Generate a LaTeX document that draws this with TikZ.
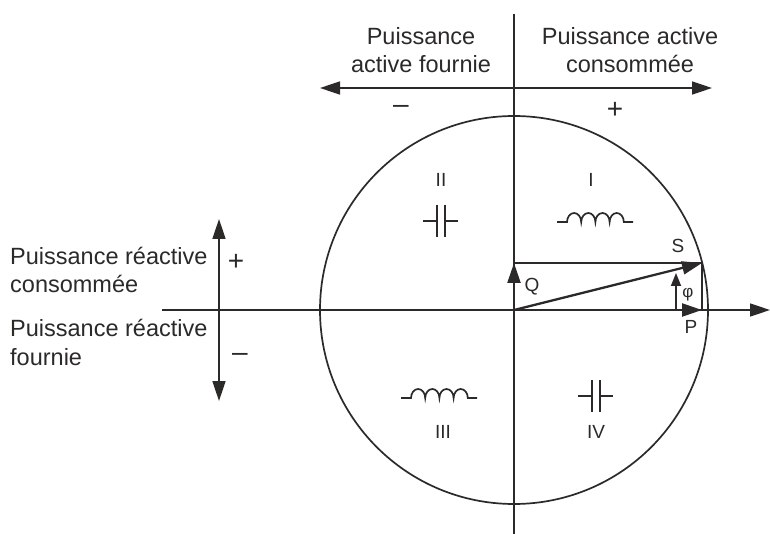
\documentclass[tikz,border=0pt]{standalone}
\usepackage{fontspec}
\setmainfont{Liberation Sans}
\usetikzlibrary{arrows.meta}
\definecolor{ink}{HTML}{2B2A29}
\tikzset{
  line/.style={draw=ink,line width=1.7pt},
  thick line/.style={draw=ink,line width=2.3pt},
  big/.style={-{Triangle[length=20pt,width=13pt,fill=ink]}},
  bigboth/.style={{Triangle[length=20pt,width=13pt,fill=ink]}-{Triangle[length=20pt,width=13pt,fill=ink]}},
  small/.style={-{Triangle[length=13pt,width=10pt,fill=ink]}},
  label/.style={text=ink,font=\fontsize{23.5}{28.7}\selectfont,inner sep=0pt},
  sign/.style={text=ink,font=\fontsize{28}{30}\selectfont,inner sep=0pt},
  mini/.style={text=ink,font=\fontsize{19}{22}\selectfont,inner sep=0pt},
}
\newcommand{\inductorsym}[2]{%
  \draw[line,xshift=#1pt,yshift=-#2pt] (0,0) -- (10,0) arc (180:360:7.1 and 9) arc (180:360:7.1 and 9) arc (180:360:7.1 and 9) arc (180:360:7.1 and 9) -- (76,0);}
\newcommand{\capsym}[2]{%
  \draw[line,xshift=#1pt,yshift=-#2pt] (-18,0) -- (-4,0) (4,0) -- (17,0) (-4,-16) -- (-4,16) (4,-16) -- (4,16);}
\begin{document}
\begin{tikzpicture}[x=1pt,y=-1pt]
\useasboundingbox (0,0) rectangle (770,534);
\coordinate (O) at (514,310);
\coordinate (axT) at (514,14);
\coordinate (axB) at (514,534);
\coordinate (axL) at (162,310);
\coordinate (axR) at (770,310);
\coordinate (topL) at (320,88);
\coordinate (topR) at (712,88);
\coordinate (leftT) at (219,219);
\coordinate (leftB) at (219,401);
\coordinate (Q) at (514,263);
\coordinate (S) at (702,263);
\coordinate (P) at (702,310);
\coordinate (phiB) at (676,310);
\coordinate (phiT) at (676,273);
\draw[line] (O) circle[radius=194];
\draw[line] (axT) -- (axB);
\draw[line,big] (axL) -- (axR);
\draw[line,bigboth] (topL) -- (topR);
\draw[line,bigboth] (leftT) -- (leftB);
\draw[line] (Q) -- (S);
\draw[line] (S) -- (P);
\draw[thick line,big] (O) -- (Q);
\draw[thick line,big] (O) -- (S);
\draw[thick line,big] (O) -- (P);
\draw[line,small] (phiB) -- (phiT);
\node[label,align=center] (n1) at (421,50) {Puissance\\active fournie};
\node[label,align=center] (n2) at (630,50) {Puissance active\\consommée};
\node[label,align=left,anchor=west] (n3) at (10,270) {Puissance réactive\\consommée};
\node[label,align=left,anchor=west] (n4) at (10,342.5) {Puissance réactive\\fournie};
\node[sign] (m1) at (401,109.5) {–};
\node[sign] (p1) at (615,110) {+};
\node[sign] (p2) at (236,262.5) {+};
\node[sign] (m2) at (240,357.5) {–};
\node[mini] (r1) at (441,180) {II};
\node[mini] (r2) at (591,180) {I};
\node[mini] (r3) at (443,432) {III};
\node[mini] (r4) at (596,432) {IV};
\node[mini] (tS) at (678,246) {S};
\node[mini] (tQ) at (532,287) {Q};
\node[mini] (tP) at (691,327) {P};
\node[text=ink,font=\fontsize{17}{20}\selectfont,inner sep=0pt] (tphi) at (688,295) {φ};
\inductorsym{557}{222}
\inductorsym{401}{398}
\capsym{441}{221}
\capsym{596}{396}
\end{tikzpicture}
\end{document}
